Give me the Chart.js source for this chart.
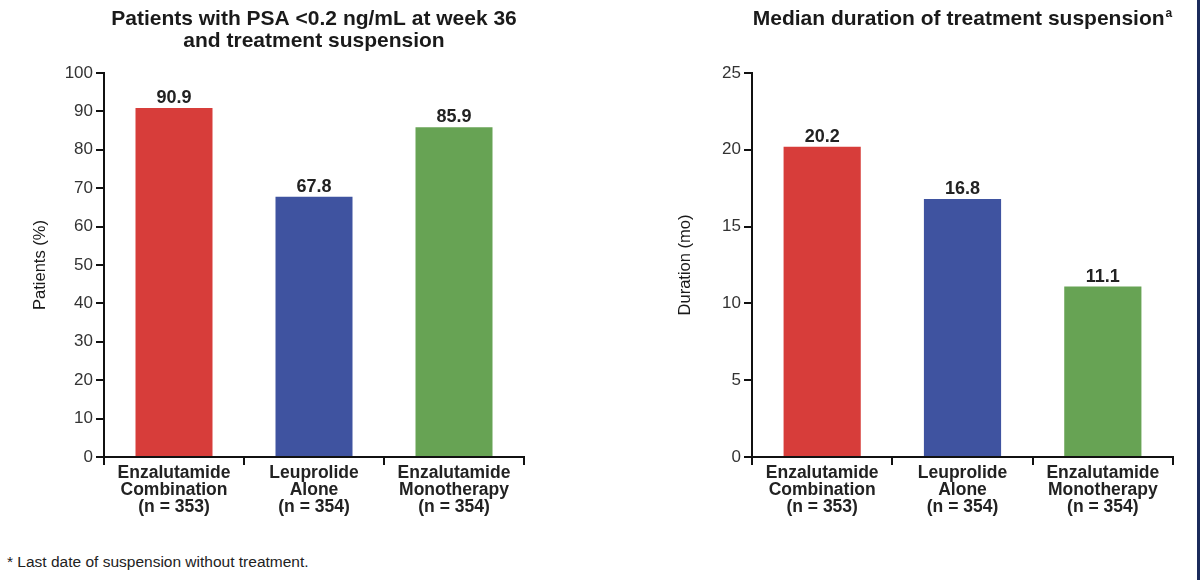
<!DOCTYPE html>
<html>
<head>
<meta charset="utf-8">
<script src="https://cdn.jsdelivr.net/npm/chart.js@4"></script>
<style>
  body { margin: 0; background: #fff; font-family: "Liberation Sans", Arial, sans-serif; }
  #page { position: relative; width: 1200px; height: 580px; overflow: hidden; background: #fff; }
  .box { position: absolute; top: 0; width: 600px; height: 540px; }
  #note { position: absolute; left: 7px; top: 553px; font-size: 15.5px; color: #222; }
  #edge { position: absolute; right: 0; top: 0; width: 3px; height: 580px; background: #1b2b5c; }
</style>
</head>
<body>
<div id="page">
  <div class="box" style="left:0"><canvas id="psaChart" width="600" height="540"></canvas></div>
  <div class="box" style="left:600px"><canvas id="durChart" width="600" height="540"></canvas></div>
  <div id="note">* Last date of suspension without treatment.</div>
  <div id="edge"></div>
</div>
<script>
// data
var armNames = [["Enzalutamide", "Combination"], ["Leuprolide", "Alone"], ["Enzalutamide", "Monotherapy"]];
var armN = [353, 354, 354];
var psaPct = [90.9, 67.8, 85.9];
var suspMonths = [20.2, 16.8, 11.1];
var barColors = ["#d73d3a", "#3f53a0", "#67a354"];

var armLabels = armNames.map(function (name, i) {
  return name.concat(["(n = " + armN[i] + ")"]);
});

var FONT = "'Liberation Sans', Arial, sans-serif";

// value above each bar
var valueLabels = {
  id: "valueLabels",
  afterDatasetsDraw: function (chart) {
    var ctx = chart.ctx;
    var meta = chart.getDatasetMeta(0);
    ctx.save();
    ctx.font = "bold 18px " + FONT;
    ctx.fillStyle = "#222";
    ctx.textAlign = "center";
    ctx.textBaseline = "alphabetic";
    meta.data.forEach(function (bar, i) {
      ctx.fillText(chart.data.datasets[0].data[i].toFixed(1), bar.x, bar.y - 5);
    });
    ctx.restore();
  },
};

// title centred over the plot area (chart.js title centres on whole canvas)
var areaTitle = {
  id: "areaTitle",
  afterDraw: function (chart, args, opts) {
    var ctx = chart.ctx;
    var cx = (chart.chartArea.left + chart.chartArea.right) / 2;
    ctx.save();
    ctx.fillStyle = "#1a1a1a";
    ctx.textBaseline = "middle";
    opts.lines.forEach(function (line, i) {
      ctx.font = "bold 21px " + FONT;
      var w = ctx.measureText(line).width;
      var sw = 0;
      if (opts.sup && i == opts.lines.length - 1) {
        ctx.font = "bold 12px " + FONT;
        sw = ctx.measureText(opts.sup).width + 1;
      }
      var x0 = cx - (w + sw) / 2;
      var y = opts.y[i];
      ctx.font = "bold 21px " + FONT;
      ctx.textAlign = "left";
      ctx.fillText(line, x0, y);
      if (sw) {
        ctx.font = "bold 12px " + FONT;
        ctx.fillText(opts.sup, x0 + w + 1, y - 5);
      }
    });
    ctx.restore();
  },
};

function makeChart(id, values, max, step, yTitle, yWidth, yTitlePad, padRight, titleOpts) {
  return new Chart(id, {
    type: "bar",
    data: {
      labels: armLabels,
      datasets: [
        {
          data: values,
          backgroundColor: barColors,
          barPercentage: 0.55,
          categoryPercentage: 1,
        },
      ],
    },
    plugins: [valueLabels, areaTitle],
    options: {
      responsive: false,
      animation: false,
      layout: { padding: { top: 73, right: padRight, left: 0, bottom: 0 } },
      plugins: {
        legend: { display: false },
        tooltip: { enabled: false },
        areaTitle: titleOpts,
      },
      scales: {
        x: {
          grid: { drawOnChartArea: false, drawTicks: true, tickLength: 8, color: "#111", tickColor: "#111", lineWidth: 2 },
          border: { display: true, color: "#111", width: 2 },
          ticks: {
            color: "#222",
            padding: 0,
            maxRotation: 0,
            autoSkip: false,
            font: { family: FONT, size: 17.5, weight: "bold", lineHeight: "17px" },
          },
          afterFit: function (scale) {
            scale.height = 83;
          },
        },
        y: {
          min: 0,
          max: max,
          ticks: {
            stepSize: step,
            color: "#333",
            padding: 3,
            font: { family: FONT, size: 17 },
          },
          grid: { drawOnChartArea: false, drawTicks: true, tickLength: 8, color: "#111", tickColor: "#111", lineWidth: 2 },
          border: { display: true, color: "#111", width: 2 },
          title: {
            display: true,
            text: yTitle,
            color: "#1a1a1a",
            padding: { top: yTitlePad, bottom: 0 },
            font: { family: FONT, size: 16.5 },
          },
          afterFit: function (scale) {
            scale.width = yWidth;
          },
        },
      },
    },
  });
}

var psaChart = makeChart("psaChart", psaPct, 100, 10, "Patients (%)", 104, 31, 76, {
  lines: ["Patients with PSA <0.2 ng/mL at week 36", "and treatment suspension"],
  y: [19, 41],
});

var durChart = makeChart("durChart", suspMonths, 25, 5, "Duration (mo)", 152, 76, 27, {
  lines: ["Median duration of treatment suspension"],
  y: [19],
  sup: "a",
});
</script>
</body>
</html>
